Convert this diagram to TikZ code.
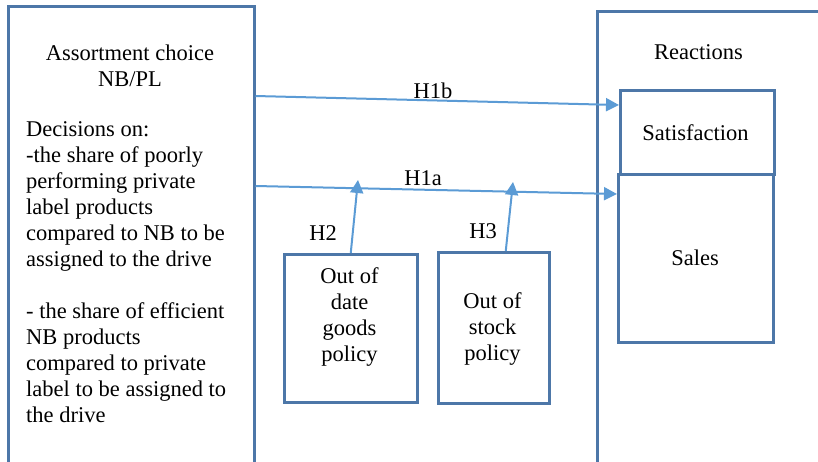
\documentclass[tikz,border=0pt]{standalone}
\usepackage{fontspec}
\setmainfont{Liberation Serif}
\usetikzlibrary{arrows.meta,calc}
\definecolor{boxblue}{RGB}{77,119,168}
\definecolor{arrowblue}{RGB}{91,155,213}
\begin{document}
\begin{tikzpicture}[x=1pt,y=-1pt,
  box/.style={draw=boxblue,line width=2.5pt,rectangle,inner sep=0pt,anchor=north west},
  txt/.style={inner sep=0pt,anchor=base,font=\fontsize{22.5}{26}\selectfont},
  link/.style={draw=arrowblue,line width=2pt,-{Triangle[length=13pt,width=13pt]}}]
\useasboundingbox (0,0) rectangle (818,461);
% boxes
\node[box,minimum width=246pt,minimum height=480pt] (choice) at (7,5) {};
\node[box,minimum width=240pt,minimum height=470pt] (reac) at (596,10) {};
\node[box,minimum width=154pt,minimum height=84pt] (sat) at (619,89) {};
\node[box,minimum width=155pt,minimum height=168pt] (sales) at (617,173) {};
\node[box,minimum width=133pt,minimum height=148pt] (ood) at (283,253) {};
\node[box,minimum width=111pt,minimum height=151pt] (oos) at (437,251) {};
% texts
\node[txt] (t1) at (130,60) {\begin{tabular}[t]{@{}c@{}}Assortment choice\\NB/PL\end{tabular}};
\node[txt,anchor=base west] (t2) at (26,136.7) {\begin{tabular}[t]{@{}l@{}}Decisions on:\\-the share of poorly\\performing private\\label products\\compared to NB to be\\assigned to the drive\\ \\- the share of efficient\\NB products\\compared to private\\label to be assigned to\\the drive\end{tabular}};
\node[txt] (t3) at (698.5,59) {Reactions};
\node[txt] (t4) at (695.5,140) {Satisfaction};
\node[txt] (t5) at (695,265) {Sales};
\node[txt] (t6) at (349.5,283) {\begin{tabular}[t]{@{}c@{}}Out of\\date\\goods\\policy\end{tabular}};
\node[txt] (t7) at (492.5,308) {\begin{tabular}[t]{@{}c@{}}Out of\\stock\\policy\end{tabular}};
% arrows
\coordinate (h2tip) at (358,180);
\coordinate (h3tip) at (513,182);
\draw[link] ($(choice.north east)+(0,91)$) -- ($(sat.north west)+(0,16)$);
\draw[link] ($(choice.north east)+(0,181)$) -- ($(sales.north west)+(0,21)$);
\draw[link] (ood.north) -- (h2tip);
\draw[link] ($(oos.north)+(12,0)$) -- (h3tip);
% labels
\node[txt] (l1) at (433,98.3) {H1b};
\node[txt] (l2) at (423,185) {H1a};
\node[txt] (l3) at (323,240) {H2};
\node[txt] (l4) at (483,238) {H3};
\end{tikzpicture}
\end{document}
